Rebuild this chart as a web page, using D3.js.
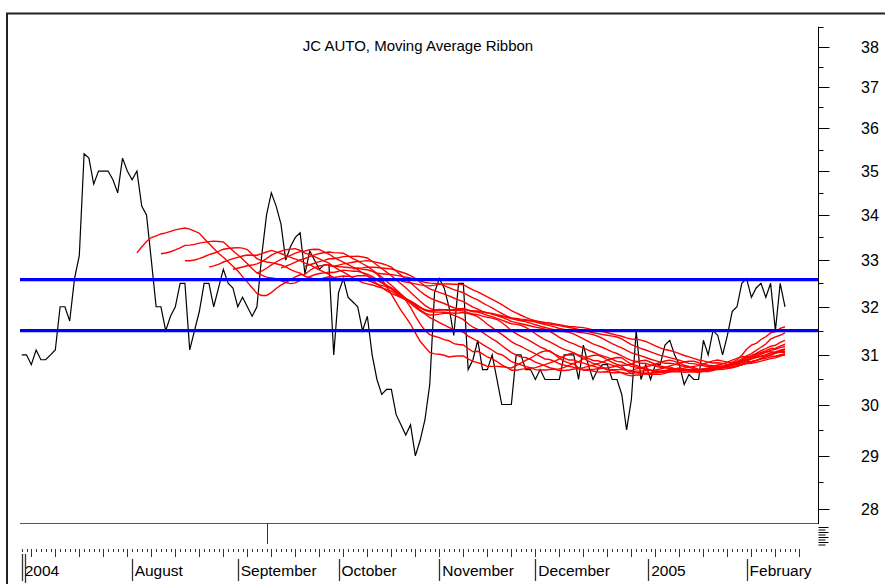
<!DOCTYPE html>
<html>
<head>
<meta charset="utf-8">
<script src="https://cdn.jsdelivr.net/npm/d3@7"></script>
<style>
body { margin: 0; background: #fff; }
text { font-family: "Liberation Sans", Arial, sans-serif; fill: #000; }
</style>
</head>
<body>
<div id="chart"></div>
<script>
// daily closes (July 2004 - February 2005)
var closeValues = [
	31.0, 31.0, 30.8, 31.1, 30.9, 30.9, 31.0, 31.1, 32.0, 32.0,
	31.7, 32.6, 33.1, 35.4, 35.3, 34.7, 35.0, 35.0, 35.0, 34.8,
	34.5, 35.3, 35.0, 34.8, 35.0, 34.2, 34.0, 33.0, 32.0, 32.0,
	31.5, 31.8, 32.0, 32.5, 32.5, 31.1, 31.5, 31.9, 32.5, 32.5,
	32.0, 32.4, 32.8, 32.5, 32.4, 32.0, 32.2, 32.0, 31.8, 32.0,
	33.1, 34.0, 34.5, 34.2, 33.8, 33.0, 33.3, 33.5, 33.6, 32.7,
	33.2, 33.0, 32.8, 32.9, 32.9, 31.0, 32.3, 32.6, 32.2, 32.1,
	32.0, 31.5, 31.8, 31.0, 30.5, 30.2, 30.3, 30.3, 29.8, 29.6,
	29.4, 29.6, 29.0, 29.3, 29.7, 30.4, 32.3, 32.6, 32.4, 32.0,
	31.4, 32.5, 32.5, 30.7, 30.9, 31.3, 30.7, 30.7, 31.0, 30.5,
	30.0, 30.0, 30.0, 31.0, 31.0, 30.7, 30.7, 30.5, 30.7, 30.5,
	30.5, 30.5, 30.5, 31.0, 31.0, 31.0, 30.5, 31.2, 30.8, 30.5,
	30.7, 30.8, 30.8, 30.5, 30.5, 30.2, 29.5, 30.1, 31.5, 30.5,
	30.8, 30.5, 30.8, 30.8, 31.2, 31.3, 31.0, 30.8, 30.4, 30.6,
	30.5, 30.5, 31.3, 31.0, 31.5, 31.4, 31.0, 31.4, 31.9, 32.0,
	32.5, 32.6, 32.2, 32.4, 32.5, 32.2, 32.5, 31.5, 32.5, 32.0
];

// ribbon periods (simple moving averages)
var maPeriods = [25, 30, 35, 40, 45, 50, 55, 60, 65, 70, 75, 80];

// the two horizontal blue levels
var levelValues = [32.58, 31.5];

var priceTicks = [28, 29, 30, 31, 32, 33, 34, 35, 36, 37, 38];
var halfTicks = [28.5, 29.5, 30.5, 31.5, 32.5, 33.5, 34.5, 35.5, 36.5, 37.5, 38.5];

var monthLabels = ["2004", "August", "September", "October", "November", "December", "2005", "February"];
var monthIndex = [0, 22.9, 45, 66, 87, 107, 130.5, 151];
var markerIndex = 51;

var width = 885;
var height = 584;

var svg = d3.select("#chart")
	.append("svg")
	.attr("width", width)
	.attr("height", height);

svg.append("rect")
	.attr("width", width)
	.attr("height", height)
	.attr("fill", "#fff");

var x = d3.scaleLinear()
	.domain([0, closeValues.length - 1])
	.range([21.7, 785]);

var y = d3.scaleLog()
	.domain([28, 38])
	.range([509, 46.5]);

// outer frame (top and left edge)
svg.append("path")
	.attr("d", "M7,584V13.5H885")
	.attr("fill", "none")
	.attr("stroke", "#222")
	.attr("stroke-width", 2);

// separator above the date axis
svg.append("line")
	.attr("x1", 20).attr("x2", 818)
	.attr("y1", 523.5).attr("y2", 523.5)
	.attr("stroke", "#555")
	.attr("stroke-width", 1);

// title
svg.append("text")
	.attr("x", 418)
	.attr("y", 51)
	.attr("text-anchor", "middle")
	.style("font-size", "15px")
	.text("JC AUTO, Moving Average Ribbon");

// price line
var line = d3.line()
	.x(function(d, i) { return x(i); })
	.y(function(d) { return y(d); });

svg.append("path")
	.datum(closeValues)
	.attr("d", line)
	.attr("fill", "none")
	.attr("stroke", "#000")
	.attr("stroke-width", 1.2);

// moving averages
function movingAverage(values, n) {
	var out = [];
	var sum = 0;
	for (var i = 0; i < values.length; i++) {
		sum += values[i];
		if (i >= n) { sum -= values[i - n]; }
		if (i >= n - 1) { out.push({ i: i, v: sum / n }); }
	}
	return out;
}

var maLine = d3.line()
	.x(function(d) { return x(d.i); })
	.y(function(d) { return y(d.v); });

svg.selectAll(".ma")
	.data(maPeriods)
	.enter().append("path")
	.attr("class", "ma")
	.attr("d", function(n) { return maLine(movingAverage(closeValues, n)); })
	.attr("fill", "none")
	.attr("stroke", "#ff0000")
	.attr("stroke-width", 1.4);

// blue levels
svg.selectAll(".level")
	.data(levelValues)
	.enter().append("line")
	.attr("class", "level")
	.attr("x1", 20)
	.attr("x2", 818)
	.attr("y1", function(d) { return y(d); })
	.attr("y2", function(d) { return y(d); })
	.attr("stroke", "#0000ff")
	.attr("stroke-width", 3.2);

// right price axis
var axisX = 818.5;
svg.append("line")
	.attr("x1", axisX).attr("x2", axisX)
	.attr("y1", y(38.5)).attr("y2", 524)
	.attr("stroke", "#000");

svg.selectAll(".major")
	.data(priceTicks)
	.enter().append("line")
	.attr("x1", axisX).attr("x2", axisX + 11)
	.attr("y1", function(d) { return Math.round(y(d)) + 0.5; })
	.attr("y2", function(d) { return Math.round(y(d)) + 0.5; })
	.attr("stroke", "#000");

svg.selectAll(".minor")
	.data(halfTicks)
	.enter().append("line")
	.attr("x1", axisX).attr("x2", axisX + 5)
	.attr("y1", function(d) { return Math.round(y(d)) + 0.5; })
	.attr("y2", function(d) { return Math.round(y(d)) + 0.5; })
	.attr("stroke", "#000");

svg.selectAll(".plabel")
	.data(priceTicks)
	.enter().append("text")
	.attr("x", 861)
	.attr("y", function(d) { return y(d) + 6; })
	.style("font-size", "16px")
	.text(function(d) { return d; });

// compressed ticks below the axis
svg.selectAll(".stub")
	.data(d3.range(8))
	.enter().append("line")
	.attr("x1", axisX)
	.attr("x2", function(d) { return axisX + (d % 2 ? 7 : 10); })
	.attr("y1", function(d) { return 527.5 + d * 2.5; })
	.attr("y2", function(d) { return 527.5 + d * 2.5; })
	.attr("stroke", "#000");

// date axis: daily and weekly ticks
var days = d3.range(0, 163);
svg.selectAll(".day")
	.data(days)
	.enter().append("line")
	.attr("x1", function(d) { return Math.round(x(d)) + 0.5; })
	.attr("x2", function(d) { return Math.round(x(d)) + 0.5; })
	.attr("y1", 549)
	.attr("y2", function(d) { return d % 5 == 2 ? 557 : 552; })
	.attr("stroke", "#333")
	.attr("stroke-width", 1);

// month boundaries
svg.selectAll(".month")
	.data(monthIndex)
	.enter().append("line")
	.attr("x1", function(d) { return Math.round(x(d)) + 0.5; })
	.attr("x2", function(d) { return Math.round(x(d)) + 0.5; })
	.attr("y1", function(d, i) { return i == 0 ? 554 : 559; })
	.attr("y2", 581)
	.attr("stroke", "#333")
	.attr("stroke-width", 1.3);

// double line at the start of the year
svg.append("line")
	.attr("x1", Math.round(x(0)) + 3.5).attr("x2", Math.round(x(0)) + 3.5)
	.attr("y1", 554).attr("y2", 583)
	.attr("stroke", "#333")
	.attr("stroke-width", 1.3);

svg.selectAll(".mlabel")
	.data(monthLabels)
	.enter().append("text")
	.attr("x", function(d, i) { return x(monthIndex[i]) + (i == 0 ? 3 : 3); })
	.attr("y", 576)
	.style("font-size", "15.5px")
	.text(function(d) { return d; });

// marker tick hanging from the separator
svg.append("line")
	.attr("x1", Math.round(x(markerIndex)) + 0.5)
	.attr("x2", Math.round(x(markerIndex)) + 0.5)
	.attr("y1", 523).attr("y2", 544)
	.attr("stroke", "#333");
</script>
</body>
</html>
